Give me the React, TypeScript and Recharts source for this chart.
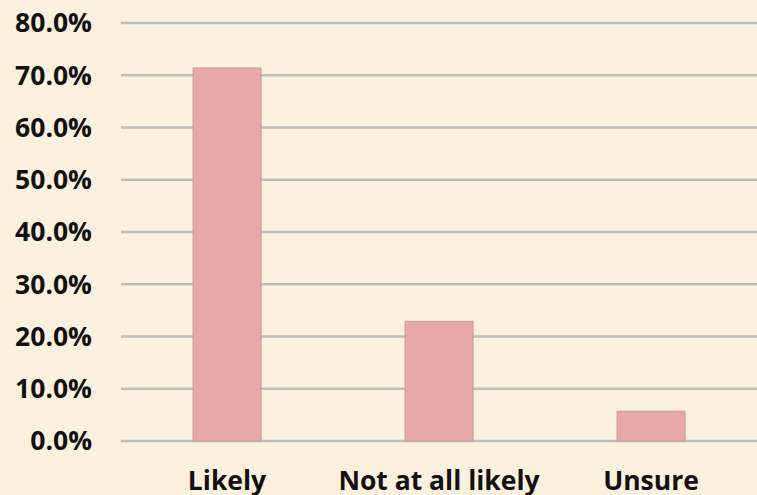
import React from "react";
import { BarChart, Bar, CartesianGrid, XAxis, YAxis } from "recharts";

const categories = ["Likely", "Not at all likely", "Unsure"];
const shares = [71.4, 22.9, 5.7];
const yTicks = [0, 10, 20, 30, 40, 50, 60, 70, 80];

const data = categories.map((name, i) => ({ name, share: shares[i] }));

const font = "'Open Sans', 'DejaVu Sans', sans-serif";

export default function App() {
  return (
    <div
      style={{
        position: "absolute",
        left: 0,
        top: 0,
        width: 757,
        height: 495,
        background: "#FCF0DE",
        overflow: "hidden",
      }}
    >
      <BarChart
        width={757}
        height={495}
        data={data}
        margin={{ top: 23, right: 0, left: 0, bottom: 0 }}
        barCategoryGap="34%"
      >
        <CartesianGrid vertical={false} stroke="#BDBDBD" strokeWidth={2.5} />
        <XAxis
          dataKey="name"
          axisLine={false}
          tickLine={false}
          height={54}
          tickMargin={24}
          tick={{ fill: "#111", fontSize: 26.5, fontWeight: 700, fontFamily: font }}
        />
        <YAxis
          width={121}
          domain={[0, 80]}
          ticks={yTicks}
          axisLine={false}
          tickLine={false}
          tickSize={0}
          tickMargin={29}
          tickFormatter={(v: number) => `${v.toFixed(1)}%`}
          tick={{ fill: "#111", fontSize: 26.5, fontWeight: 700, fontFamily: font }}
        />
        <Bar
          dataKey="share"
          fill="#E8A8A8"
          stroke="#C99C9C"
          strokeWidth={1}
          isAnimationActive={false}
        />
      </BarChart>
    </div>
  );
}
